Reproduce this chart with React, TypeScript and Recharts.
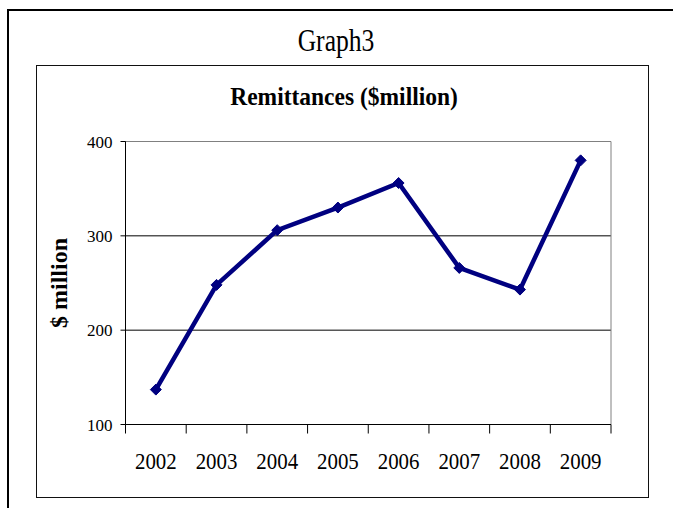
import { LineChart, Line, XAxis, YAxis, CartesianGrid, ReferenceLine } from "recharts";

const years = ["2002", "2003", "2004", "2005", "2006", "2007", "2008", "2009"];
const remittances = [137, 248, 306, 330, 356, 266, 243, 380];
const yTicks = [100, 200, 300, 400];

const NAVY = "#000080";
const FONT = "'Liberation Serif', 'Times New Roman', serif";

const W = 673;
const H = 508;
// half-pixel offsets keep the 1px axis and grid lines crisp
const MARGIN = { top: 141.5, right: 62, left: 0, bottom: 33.5 };
const Y_AXIS_W = 125.5;
const PLOT_W = W - MARGIN.left - Y_AXIS_W - MARGIN.right;
const BAND = PLOT_W / years.length;

const data = years.map((year, i) => ({ pos: i + 0.5, year, value: remittances[i] }));
const xTicks = years.map((_, i) => i).concat(years.length);

function YearTick(props: any) {
  const { x, y, index } = props;
  if (index >= years.length) return null;
  return (
    <text
      transform={`translate(${x + BAND / 2},${y + 33}) scale(0.87,1)`}
      textAnchor="middle"
      fontFamily={FONT}
      fontSize={24}
      fill="#000"
    >
      {years[index]}
    </text>
  );
}

function Diamond(props: any) {
  const { cx, cy } = props;
  if (cx == null || cy == null) return null;
  const r = 5.5;
  return (
    <polygon
      points={`${cx},${cy - r} ${cx + r},${cy} ${cx},${cy + r} ${cx - r},${cy}`}
      fill={NAVY}
      stroke={NAVY}
    />
  );
}

export default function App() {
  return (
    <div style={{ position: "absolute", left: 0, top: 0, width: W, height: H, overflow: "hidden", background: "#fff" }}>
      <div
        style={{
          position: "absolute",
          left: 7,
          top: 9,
          width: 720,
          height: 620,
          border: "2px solid #000",
        }}
      />
      <div
        style={{
          position: "absolute",
          left: 36,
          top: 65,
          width: 611,
          height: 431,
          border: "1px solid #111",
        }}
      />
      <svg width={W} height={H} style={{ position: "absolute", left: 0, top: 0 }}>
        <text transform="translate(336,51) scale(0.8,1)" textAnchor="middle" fontFamily={FONT} fontSize={32} fill="#000">
          Graph3
        </text>
        <text
          transform="translate(344,105) scale(0.94,1)"
          textAnchor="middle"
          fontFamily={FONT}
          fontWeight="bold"
          fontSize={25}
          fill="#000"
        >
          Remittances ($million)
        </text>
      </svg>
      <div style={{ position: "absolute", left: 0, top: 0 }}>
        <LineChart width={W} height={H} data={data} margin={MARGIN}>
          <CartesianGrid horizontal vertical={false} stroke="#000" strokeOpacity={1} />
          <XAxis
            type="number"
            dataKey="pos"
            domain={[0, years.length]}
            ticks={xTicks}
            interval={0}
            height={50}
            tickSize={9}
            axisLine={{ stroke: "#000" }}
            tickLine={{ stroke: "#000" }}
            tick={<YearTick />}
          />
          <YAxis
            domain={[100, 400]}
            ticks={yTicks}
            interval={0}
            width={Y_AXIS_W}
            tickSize={5}
            tickMargin={8}
            axisLine={{ stroke: "#000" }}
            tickLine={{ stroke: "#000" }}
            tick={{ fontFamily: FONT, fontSize: 17, fill: "#000" }}
            label={{
              value: "$ million",
              angle: -90,
              position: "insideLeft",
              offset: 58,
              style: { textAnchor: "middle", fontFamily: FONT, fontWeight: "bold", fontSize: 24, fill: "#000" },
            }}
          />
          <ReferenceLine y={400} stroke="#808080" />
          <ReferenceLine x={years.length} stroke="#808080" />
          <Line
            type="linear"
            dataKey="value"
            stroke={NAVY}
            strokeWidth={4.5}
            dot={<Diamond />}
            activeDot={false}
            isAnimationActive={false}
          />
        </LineChart>
      </div>
    </div>
  );
}
